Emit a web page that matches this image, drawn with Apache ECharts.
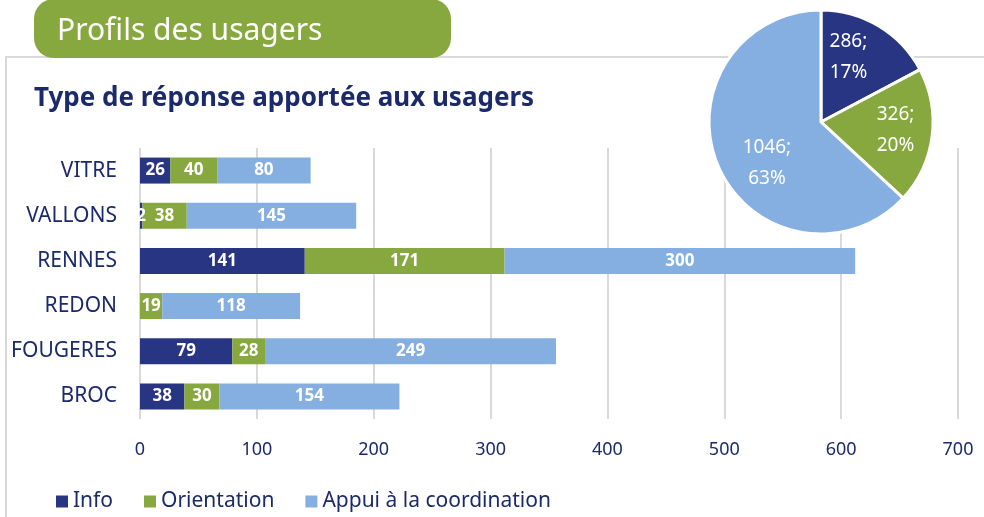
<!DOCTYPE html>
<html><head><meta charset="utf-8">
<script src="https://cdn.jsdelivr.net/npm/echarts@6/dist/echarts.min.js"></script>
<style>html,body{margin:0;padding:0;background:#fff}#c{width:984px;height:517px}</style>
</head><body><div id="c"></div>
<script>
const categories = ['VITRE','VALLONS','RENNES','REDON','FOUGERES','BROC'];
const seriesNames = ['Info','Orientation','Appui à la coordination'];
const info = [26, 2, 141, 0, 79, 38];
const orientation = [40, 38, 171, 19, 28, 30];
const appui = [80, 145, 300, 118, 249, 154];
const pieValues = [286, 326, 1046];
const xTicks = [0, 100, 200, 300, 400, 500, 600, 700];

const colors = ['#283583', '#87A83F', '#85AFE0'];
const navy = '#1B2A6B';
const font = 'Noto Sans';
const pieLabelOffsets = [[-3,-14],[16,0],[0,18]];
const total = pieValues.reduce((a,b)=>a+b,0);

const chart = echarts.init(document.getElementById('c'));
const barSeries = [info, orientation, appui].map((vals, i) => ({
  name: seriesNames[i], type: 'bar', stack: 's', barWidth: 26,
  data: vals, itemStyle: {color: colors[i]},
  label: {show: true, position: 'inside', color: '#fff', fontWeight: 'bold', fontSize: 17, fontFamily: font,
    formatter: p => p.value === 0 ? '' : String(p.value)}
}));

chart.setOption({
  animation: false,
  textStyle: {fontFamily: font},
  graphic: [
    {type: 'rect', z: 0, shape: {x: 6, y: 57, width: 1000, height: 500}, style: {fill: 'none', stroke: '#d9d9d9', lineWidth: 2}},
    {type: 'rect', z: 1, shape: {x: 34, y: -1, width: 417, height: 59, r: 20}, style: {fill: '#87A83F'}},
    {type: 'text', z: 2, x: 57, y: 31, style: {text: 'Profils des usagers', fill: '#fff', font: '30px "Noto Sans"', textVerticalAlign: 'middle'}},
    {type: 'text', z: 2, x: 34, y: 99, style: {text: 'Type de réponse apportée aux usagers', fill: navy, font: 'bold 26px "Noto Sans"', textVerticalAlign: 'middle'}}
  ],
  legend: {
    left: 56, top: 491, padding: 0, itemWidth: 12, itemHeight: 12, itemGap: 31, icon: 'rect',
    data: seriesNames,
    textStyle: {color: navy, fontSize: 21, fontFamily: font}
  },
  grid: {left: 140, right: 26, top: 148, bottom: 98, containLabel: false},
  xAxis: {
    type: 'value', min: xTicks[0], max: xTicks[xTicks.length-1], interval: 100,
    axisLine: {show: false}, axisTick: {show: false},
    axisLabel: {color: navy, fontSize: 18, margin: 22, fontFamily: font},
    splitLine: {lineStyle: {color: '#d9d9d9', width: 2}}
  },
  yAxis: {
    type: 'category', data: categories, inverse: true,
    axisLine: {show: false}, axisTick: {show: false},
    axisLabel: {color: navy, fontSize: 21, margin: 23, fontFamily: font}
  },
  series: barSeries.concat([{
    type: 'pie', center: [821, 122], radius: 112, startAngle: 90, clockwise: true, z: 5,
    itemStyle: {borderColor: '#fff', borderWidth: 3},
    data: pieValues.map((v, i) => ({value: v, name: seriesNames[i], itemStyle: {color: colors[i]},
      label: {offset: pieLabelOffsets[i]}})),
    label: {show: true, position: 'inside', color: '#fff', fontSize: 19, lineHeight: 31, fontFamily: font,
      formatter: p => p.value + ';\n' + Math.round(p.value / total * 100) + '%'},
    labelLine: {show: false}, emphasis: {disabled: true}
  }])
});
</script></body></html>
